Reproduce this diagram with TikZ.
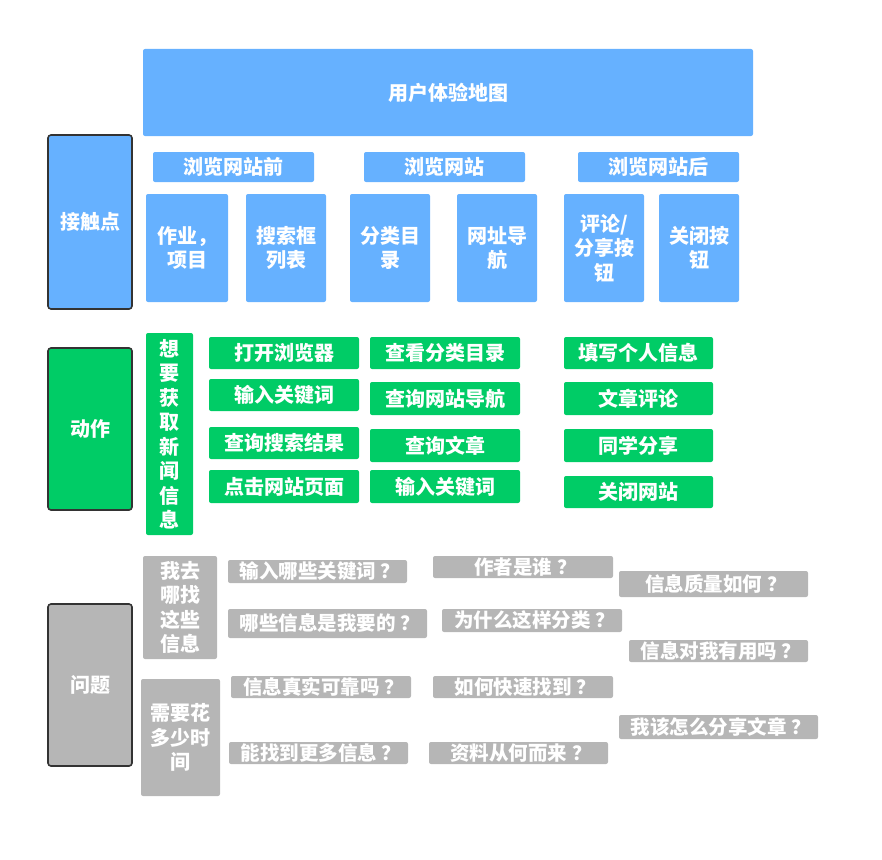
\documentclass[tikz,border=0pt]{standalone}
\usepackage{fontspec}
\setmainfont{Noto Sans CJK SC}
\definecolor{cblue}{HTML}{66B1FF}
\definecolor{cgreen}{HTML}{00CC66}
\definecolor{cgray}{HTML}{B6B6B6}
\definecolor{cborder}{HTML}{333333}
\newcommand\qm{\kern0.25em？\kern-0.25em}
\begin{document}
\begin{tikzpicture}[x=1pt,y=-1pt,
  base/.style={rectangle, rounded corners=2pt, inner sep=0pt, text=white, align=center,
    font=\fontsize{20}{24.5}\selectfont\bfseries},
  bluebox/.style={base, fill=cblue},
  greenbox/.style={base, fill=cgreen},
  graybox/.style={base, fill=cgray},
  qbox/.style={graybox, font=\fontsize{19.5}{24}\selectfont\bfseries},
  rowhead/.style={base, draw=cborder, line width=1.6pt, rounded corners=3pt, minimum width=84pt},
  sz/.style 2 args={minimum width=#1pt, minimum height=#2pt}
]
\useasboundingbox (0,0) rectangle (882,859);

% title
\node[bluebox, sz={610}{87}] (title) at (448,92.5) {用户体验地图};

% row headers
\node[rowhead, fill=cblue, minimum height=174pt] (hcontact) at (90,222) {接触点};
\node[rowhead, fill=cgreen, minimum height=162pt] (haction) at (90,429) {动作};
\node[rowhead, fill=cgray, minimum height=162pt] (hquestion) at (90,685) {问题};

% sub headers
\node[bluebox, sz={161}{30}] (pre) at (233.5,167) {浏览网站前};
\node[bluebox, sz={161}{30}] (during) at (444.5,167) {浏览网站};
\node[bluebox, sz={161}{30}] (post) at (658.5,167) {浏览网站后};

% touchpoints
\node[bluebox, sz={82}{108}] (t1) at (187,248) {作业，\\项目};
\node[bluebox, sz={80}{108}] (t2) at (286,248) {搜索框\\列表};
\node[bluebox, sz={80}{108}] (t3) at (390,248) {分类目\\录};
\node[bluebox, sz={80}{108}] (t4) at (497,248) {网址导\\航};
\node[bluebox, sz={80}{108}] (t5) at (604,248) {评论/\\分享按\\钮};
\node[bluebox, sz={80}{108}] (t6) at (699,248) {关闭按\\钮};

% actions
\node[greenbox, sz={47}{202}] (goal) at (169.5,434) {想\\要\\获\\取\\新\\闻\\信\\息};
\node[greenbox, sz={150}{32}] (a1) at (284,353) {打开浏览器};
\node[greenbox, sz={150}{32}] (a2) at (284,395) {输入关键词};
\node[greenbox, sz={150}{32}] (a3) at (284,443) {查询搜索结果};
\node[greenbox, sz={150}{33}] (a4) at (284,486.5) {点击网站页面};
\node[greenbox, sz={150}{32}] (b1) at (445,353) {查看分类目录};
\node[greenbox, sz={150}{33}] (b2) at (445,398.5) {查询网站导航};
\node[greenbox, sz={150}{33}] (b3) at (445,445.5) {查询文章};
\node[greenbox, sz={150}{33}] (b4) at (445,486.5) {输入关键词};
\node[greenbox, sz={149}{32}] (c1) at (638.5,353) {填写个人信息};
\node[greenbox, sz={149}{33}] (c2) at (638.5,398.5) {文章评论};
\node[greenbox, sz={149}{33}] (c3) at (638.5,445.5) {同学分享};
\node[greenbox, sz={149}{32}] (c4) at (638.5,492) {关闭网站};

% questions
\node[graybox, sz={74}{103}] (g1) at (180,607.5) {我去\\哪找\\这些\\信息};
\node[graybox, sz={79}{117}] (g2) at (180.5,737.5) {需要花\\多少时\\间};
\node[qbox, sz={179}{23}] (q1) at (317.5,571.5) {输入哪些关键词\qm};
\node[qbox, sz={199}{29}] (q2) at (327.5,623.5) {哪些信息是我要的\qm};
\node[qbox, sz={180}{22}] (q3) at (321,687) {信息真实可靠吗\qm};
\node[qbox, sz={179}{22}] (q4) at (318.5,753) {能找到更多信息\qm};
\node[qbox, sz={180}{22}] (q5) at (523,567) {作者是谁\qm};
\node[qbox, sz={180}{23}] (q6) at (532,620.5) {为什么这样分类\qm};
\node[qbox, sz={180}{22}] (q7) at (523,687) {如何快速找到\qm};
\node[qbox, sz={179}{22}] (q8) at (518.5,753) {资料从何而来\qm};
\node[qbox, sz={189}{26}] (q9) at (713.5,584) {信息质量如何\qm};
\node[qbox, sz={179}{22}] (q10) at (718.5,651) {信息对我有用吗\qm};
\node[qbox, sz={199}{24}] (q11) at (718.5,727) {我该怎么分享文章\qm};
\end{tikzpicture}
\end{document}
